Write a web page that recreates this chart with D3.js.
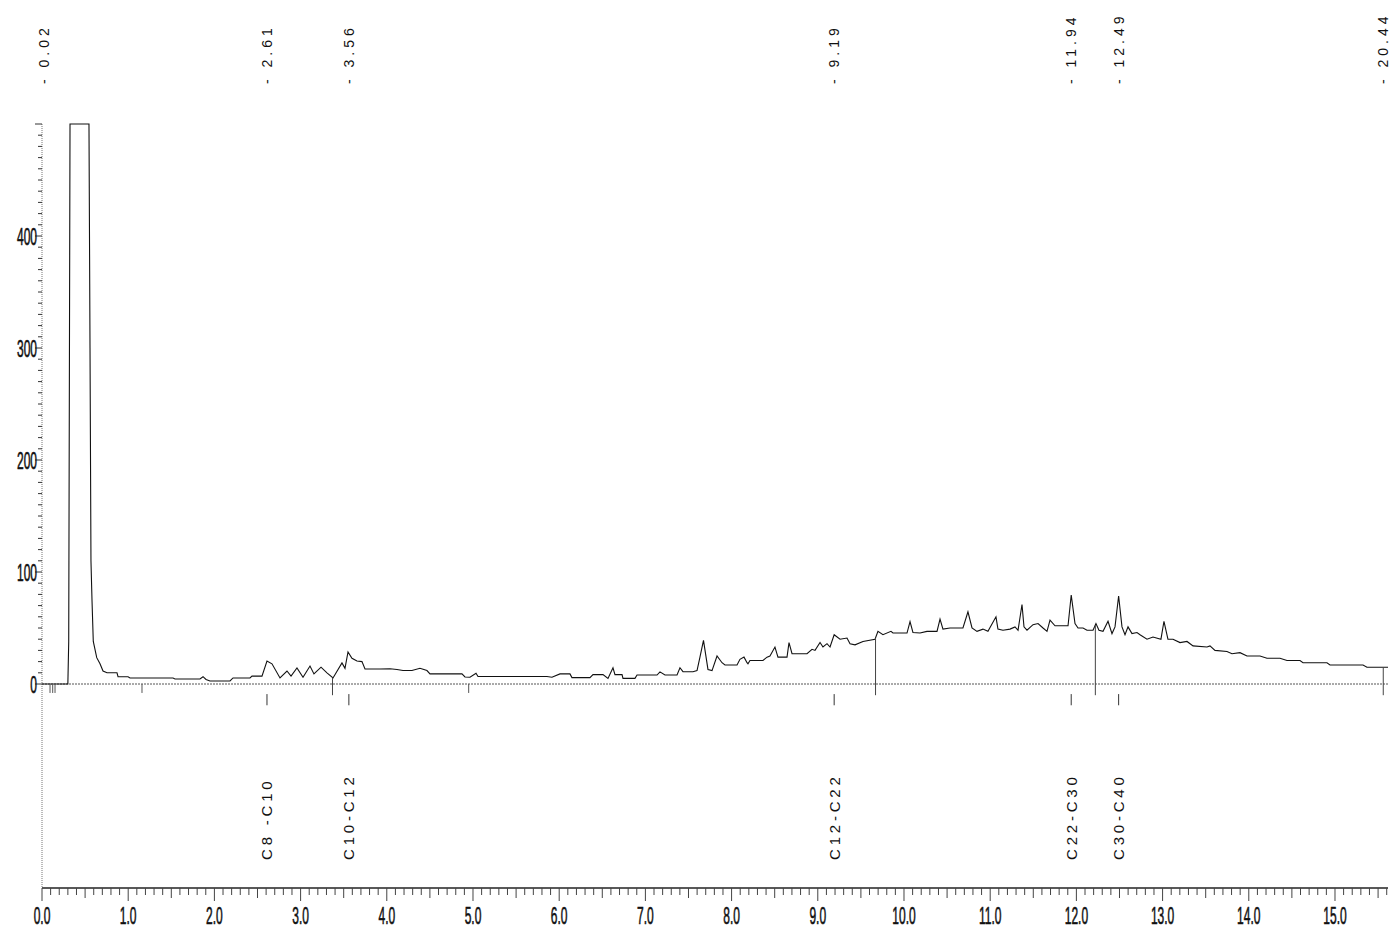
<!DOCTYPE html>
<html><head><meta charset="utf-8">
<script src="https://cdn.jsdelivr.net/npm/d3@7/dist/d3.min.js"></script>
<style>
html,body{margin:0;padding:0;background:#fff;}
svg{display:block;}
text{font-family:"Liberation Sans",Arial,sans-serif;fill:#111;}
</style></head><body>
<svg id="chart" width="1390" height="935"></svg>
<script>
// ---- data (time in min, signal in mV) ----
const traceTimes = [0.00,0.28,0.30,0.31,0.325,0.545,0.557,0.568,0.580,0.595,0.635,0.673,0.708,0.754,0.870,0.882,0.998,1.021,1.253,1.520,1.543,1.833,1.868,1.903,1.949,2.181,2.216,2.413,2.436,2.552,2.610,2.668,2.761,2.842,2.889,2.958,3.028,3.109,3.155,3.237,3.306,3.376,3.480,3.515,3.550,3.596,3.654,3.712,3.747,3.921,4.037,4.118,4.188,4.292,4.385,4.466,4.501,4.872,4.907,4.965,5.035,5.058,5.858,5.916,6.009,6.125,6.148,6.357,6.392,6.508,6.566,6.624,6.647,6.729,6.740,6.879,6.903,7.135,7.169,7.227,7.367,7.401,7.436,7.552,7.599,7.633,7.674,7.726,7.773,7.831,7.889,7.923,8.063,8.097,8.144,8.179,8.190,8.213,8.364,8.411,8.445,8.503,8.538,8.643,8.666,8.701,8.875,8.933,8.968,9.026,9.060,9.107,9.142,9.190,9.258,9.339,9.374,9.432,9.524,9.664,9.698,9.756,9.849,9.872,10.035,10.070,10.104,10.186,10.267,10.383,10.418,10.452,10.534,10.684,10.742,10.789,10.847,10.916,10.974,11.067,11.090,11.148,11.230,11.288,11.323,11.369,11.392,11.427,11.497,11.555,11.613,11.659,11.694,11.752,11.903,11.940,11.984,12.019,12.077,12.123,12.193,12.227,12.262,12.309,12.367,12.413,12.448,12.490,12.529,12.564,12.599,12.645,12.703,12.738,12.819,12.889,12.981,13.016,13.062,13.121,13.202,13.283,13.353,13.515,13.550,13.608,13.747,13.805,13.898,13.979,14.130,14.211,14.362,14.443,14.594,14.629,14.907,14.942,15.325,15.371,15.615];
const traceValues = [0,0,0,38,500,500,300,110,75,38,23.5,18,11.6,10,10,6.5,6.5,5.4,5.4,5.4,4.5,4.5,6.5,4,2.7,2.7,5.4,5.4,7,7,20.5,18,5.4,11.6,7,14.3,6,16,9,15,10,5.4,18.8,14,28.6,23,20.5,20,13.4,13.4,13.6,13,12,12,14,12,9,9,6.3,6,9.6,6.7,6.7,6,9,9,5.7,5.7,8.4,8.4,5,14.5,8.4,8.4,5,5,8,8,10.8,8,8,14.5,11,11,12,24,39,13,12,25,19,17,17,22,24,19,18,21,21,24,25,33,24,24,37,27,27,31,30,37,33,36,33,44,40,41,36,35,38,40,47,44,47,45.5,45.5,55.6,46,45.5,47,47,58,49,50,50,64.5,50,47,49,47,60,49,48,49,51,48,71,51,48,53,54,50,47,57,52,52,79.5,54,50,50,48,48,54,48,47,56,45,51,78.6,51,44,51,45,46,44,40,42,40,56,40,40,37,38,34,33,34,30,29,27,28,25,25,23,23,21,21,19,19,17,17,15,15];

const peakTimes  = [0.02, 2.61, 3.56, 9.19, 11.94, 12.49, 20.44];
const peakLabels = ["- 0.02","- 2.61","- 3.56","- 9.19","- 11.94","- 12.49","- 20.44"];
const rangeTimes  = [2.61, 3.56, 9.19, 11.94, 12.49];
const rangeLabels = ["C8 -C10","C10-C12","C12-C22","C22-C30","C30-C40"];
const dropTimes  = [3.37, 9.67, 12.22, 15.56];
const eventTicks = [0.093, 0.124, 0.151, 1.16, 4.95];
const xTickValues = [0,1,2,3,4,5,6,7,8,9,10,11,12,13,14,15];
const yTickValues = [0,100,200,300,400];
const xMax = 15.615, yMax = 500;

// ---- layout ----
const svg = d3.select("#chart");
const L = 42, R = 1388, Y0 = 684, YTOP = 124, AXY = 888;
const x = d3.scaleLinear().domain([0, xMax]).range([L, R]);
const y = d3.scaleLinear().domain([0, yMax]).range([Y0, YTOP]);
const trace = traceTimes.map((t,i)=>[t, traceValues[i]]);
const interp = t => { const i = d3.bisector(d=>d[0]).left(trace, t);
  if (i<=0) return trace[0][1]; if (i>=trace.length) return trace[trace.length-1][1];
  const a=trace[i-1], b=trace[i]; return a[1]+(b[1]-a[1])*(t-a[0])/(b[0]-a[0]); };

// y axis line (dotted, down to bottom axis)
svg.append("line").attr("x1",L).attr("x2",L).attr("y1",YTOP).attr("y2",AXY)
  .attr("stroke","#777").attr("stroke-width",1).attr("stroke-dasharray","1,1");

// y ticks
const yMinor = d3.range(0, yMax+1, 10);
svg.append("g").selectAll("line").data(yMinor).join("line")
  .attr("x1", d => d%100===0 ? L-7 : L-4).attr("x2", L)
  .attr("y1", d=>y(d)).attr("y2", d=>y(d))
  .attr("stroke","#333").attr("stroke-width",1);
svg.append("g").selectAll("g").data(yTickValues).join("g")
  .attr("transform", d=>`translate(${L-5},${y(d)}) scale(0.5,1)`)
  .append("text").attr("text-anchor","end").attr("dy","0.36em")
  .attr("font-size",24).attr("stroke","#111").attr("stroke-width",0.6)
  .text(d=>d);

// zero baseline (dotted)
svg.append("line").attr("x1",L).attr("x2",R).attr("y1",y(0)).attr("y2",y(0))
  .attr("stroke","#555").attr("stroke-width",1).attr("stroke-dasharray","2,1");

// trace
svg.append("path").datum(trace)
  .attr("d", d3.line().x(d=>x(d[0])).y(d=>y(Math.min(d[1],yMax))))
  .attr("fill","none").attr("stroke","#111").attr("stroke-width",1.1);

// drop lines (baseline events)
svg.append("g").selectAll("line").data(dropTimes).join("line")
  .attr("x1",d=>x(d)).attr("x2",d=>x(d)).attr("y1",d=>y(interp(d))).attr("y2",y(-10))
  .attr("stroke","#444").attr("stroke-width",1);
svg.append("g").selectAll("line").data(eventTicks).join("line")
  .attr("x1",d=>x(d)).attr("x2",d=>x(d)).attr("y1",y(0)).attr("y2",y(-8))
  .attr("stroke","#555").attr("stroke-width",1);
// peak apex ticks
svg.append("g").selectAll("line").data(rangeTimes).join("line")
  .attr("x1",d=>x(d)).attr("x2",d=>x(d)).attr("y1",y(-9)).attr("y2",y(-19))
  .attr("stroke","#333").attr("stroke-width",1);

// top retention time labels
const lastT = dropTimes[dropTimes.length-1];
svg.append("g").selectAll("text").data(peakTimes).join("text")
  .attr("transform", d=>`translate(${x(Math.min(d,lastT))},84) rotate(-90)`)
  .attr("dy","0.36em").attr("font-size",14).attr("letter-spacing","4px")
  .text((d,i)=>peakLabels[i]);

// range labels
svg.append("g").selectAll("text").data(rangeTimes).join("text")
  .attr("transform", d=>`translate(${x(d)},860) rotate(-90)`)
  .attr("dy","0.36em").attr("font-size",15).attr("letter-spacing","3.8px")
  .text((d,i)=>rangeLabels[i]);

// bottom axis
svg.append("line").attr("x1",L).attr("x2",R).attr("y1",AXY).attr("y2",AXY)
  .attr("stroke","#222").attr("stroke-width",1.3);
const xMinor = d3.range(0, Math.round(xMax*10)+1).map(i=>i/10);
svg.append("g").selectAll("line").data(xMinor).join("line")
  .attr("x1",d=>x(d)).attr("x2",d=>x(d)).attr("y1",AXY)
  .attr("y2",d=>{const k=Math.round(d*10); return AXY + (k%10===0?13:(k%5===0?10:7));})
  .attr("stroke","#444").attr("stroke-width",1);
svg.append("g").selectAll("g").data(xTickValues).join("g")
  .attr("transform", d=>`translate(${x(d)},924) scale(0.5,1)`)
  .append("text").attr("text-anchor","middle")
  .attr("font-size",24).attr("stroke","#111").attr("stroke-width",0.6)
  .text(d=>d3.format(".1f")(d));
</script>
</body></html>
